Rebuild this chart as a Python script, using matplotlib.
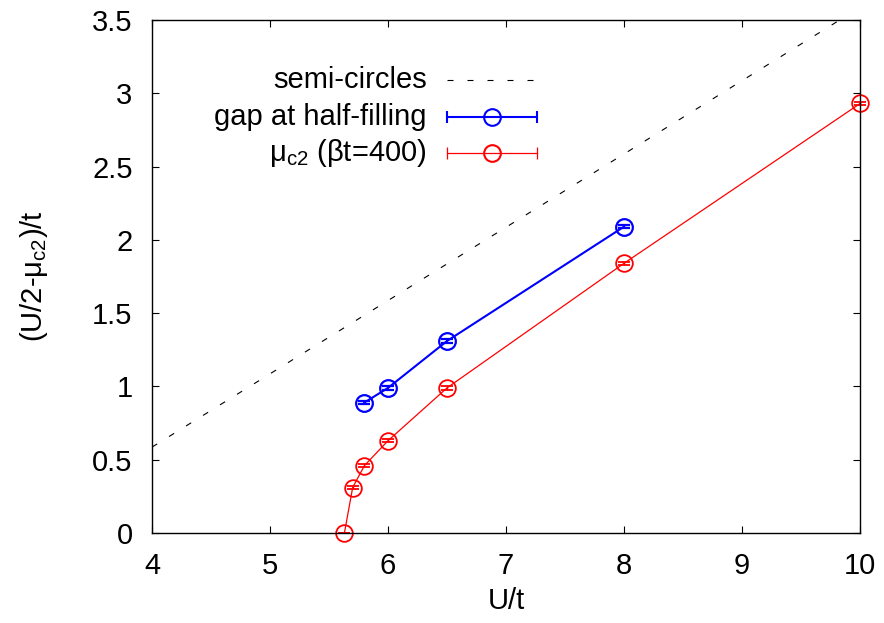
import matplotlib
matplotlib.use('Agg')
import matplotlib.pyplot as plt

plt.rcParams['font.family'] = ['Liberation Sans', 'DejaVu Sans']
plt.rcParams['mathtext.fontset'] = 'custom'
plt.rcParams['mathtext.rm'] = 'Liberation Sans'
FS = 21

# ── Data ──────────────────────────────────────────────────────
semi_u = [4.0, 10.0]
semi_y = [0.586, 3.586]

gap_u = [5.8, 6.0, 6.5, 8.0]
gap_y = [0.89, 0.99, 1.31, 2.09]
gap_err = [0.012, 0.012, 0.012, 0.012]

mu_u = [5.63, 5.70, 5.80, 6.0, 6.5, 8.0, 10.0]
mu_y = [0.0, 0.31, 0.46, 0.63, 0.99, 1.84, 2.93]
mu_err = [0.0, 0.012, 0.012, 0.012, 0.012, 0.012, 0.012]

xticks = [4, 5, 6, 7, 8, 9, 10]
yticks = [0, 0.5, 1, 1.5, 2, 2.5, 3, 3.5]
ytick_labels = ['0', '0.5', '1', '1.5', '2', '2.5', '3', '3.5']

BLUE, RED = '#0000ff', '#ff0000'

fig = plt.figure(figsize=(8.84, 6.23), dpi=100)
ax = fig.add_axes([0.172, 0.1445, 0.801, 0.8235])

ax.plot(semi_u, semi_y, color='black', lw=0.8, dashes=(5.4, 12.6))
ax.errorbar(gap_u, gap_y, yerr=gap_err, color=BLUE, lw=1.5, marker='o', ms=12,
            mfc='none', mew=1.6, capsize=4, elinewidth=1.2, capthick=1.2)
ax.errorbar(mu_u, mu_y, yerr=mu_err, color=RED, lw=0.9, marker='o', ms=12,
            mfc='none', mew=1.3, capsize=4, elinewidth=1.0, capthick=1.0,
            clip_on=False)

ax.set_xlim(4, 10)
ax.set_ylim(0, 3.5)
ax.set_xticks(xticks)
ax.set_yticks(yticks)
ax.set_yticklabels(ytick_labels)
ax.tick_params(direction='in', length=5, width=0.8, top=True, right=True,
               labelsize=FS, pad=14)
for sp in ax.spines.values():
    sp.set_linewidth(1.0)

ax.set_xlabel('U/t', fontsize=FS, labelpad=5)
ax.set_ylabel('(U/2-μ$_\\mathregular{c2}$)/t', fontsize=FS, labelpad=30)

# gnuplot-style key: right-aligned text, sample on the right
keys = [('semi-circles', 'black', None), ('gap at half-filling', BLUE, 1.5),
        ('μ$_\\mathregular{c2}$ (βt=400)', RED, 0.9)]
rows = [0.883, 0.8115, 0.741]
for (lab, c, lw), y in zip(keys, rows):
    ax.text(0.388, y, lab, transform=ax.transAxes, ha='right', va='center', fontsize=FS)
    if lw is None:
        ax.plot([0.417, 0.544], [y, y], transform=ax.transAxes, color=c, lw=0.8,
                dashes=(5.4, 12.6))
    else:
        ax.plot([0.417, 0.544], [y, y], transform=ax.transAxes, color=c, lw=lw,
                marker='|', ms=8, mew=lw)
        ax.plot([0.4805], [y], transform=ax.transAxes, color=c, marker='o', ms=12,
                mfc='none', mew=1.5)

fig.savefig('out.png', dpi=100)
